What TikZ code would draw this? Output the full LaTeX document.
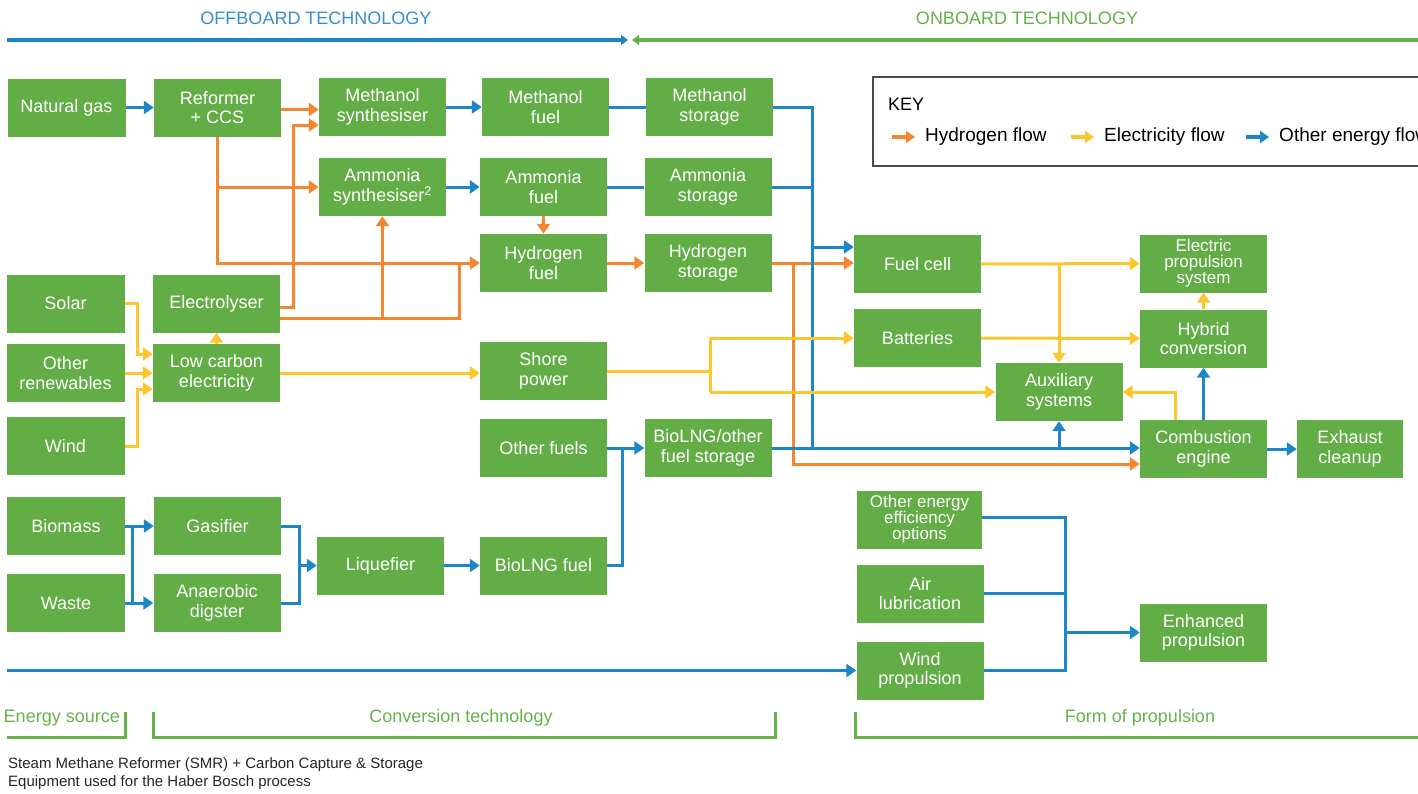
\documentclass[tikz,border=0pt]{standalone}
\usepackage{fontspec}
\setmainfont{Liberation Sans}
\usetikzlibrary{arrows.meta}
\definecolor{boxgreen}{HTML}{63AD46}
\definecolor{othblue}{HTML}{1D86C8}
\definecolor{hydorange}{HTML}{F4862F}
\definecolor{eleyellow}{HTML}{FEC62E}
\definecolor{headblue}{HTML}{3A8DD0}
\definecolor{headgreen}{HTML}{66B24A}
\begin{document}
\begin{tikzpicture}[x=1pt, y=-1pt, >={Triangle[length=10pt,width=13pt]},
    box/.style={rectangle, fill=boxgreen, text=white, align=center, inner sep=1pt,
      minimum width=127pt, minimum height=58pt, font=\fontsize{18}{19.5}\selectfont},
    srcbox/.style={box, minimum width=118pt},
    tight/.style={font=\fontsize{17}{16}\selectfont},
    hyd/.style={draw=hydorange, line width=3pt},
    ele/.style={draw=eleyellow, line width=3pt},
    oth/.style={draw=othblue, line width=3pt},
    bracket/.style={draw=headgreen, line width=3pt},
    label/.style={text=headgreen, font=\fontsize{18}{20}\selectfont},
    head/.style={font=\fontsize{18}{20}\selectfont},
    note/.style={anchor=west, inner sep=0pt, text=black!85, font=\fontsize{15}{17}\selectfont}]
\useasboundingbox (0,0) rectangle (1418,793);
\clip (0,0) rectangle (1418,793);

% headings
\node[head, text=headblue] (offboard) at (316,18) {OFFBOARD TECHNOLOGY};
\node[head, text=headgreen] (onboard) at (1027,18) {ONBOARD TECHNOLOGY};
\coordinate (offl) at (7,40);
\coordinate (offr) at (628,40);
\coordinate (onl) at (632,40);
\coordinate (onr) at (1418,40);
\draw[othblue, line width=4pt, -{Triangle[length=7pt,width=10pt]}] (offl) -- (offr);
\draw[headgreen, line width=4pt, -{Triangle[length=7pt,width=10pt]}] (onr) -- (onl);

% key
\draw[black!70, line width=1.2pt] (873,77) rectangle (1440,166);
\node[head, anchor=west, inner sep=0pt] (keytitle) at (888,104) {KEY};
\foreach \c/\x/\t in {hydorange/892/Hydrogen flow, eleyellow/1071/Electricity flow, othblue/1246/Other energy flow}{
  \coordinate (key\x) at (\x,137);
  \coordinate (keyend\x) at (\x+23,137);
  \draw[\c, line width=3.5pt, -{Triangle[length=9pt,width=12pt]}] (key\x) -- (keyend\x);
  \node[head, anchor=west, inner sep=0pt, font=\fontsize{19}{20}\selectfont] (keytext\x) at (\x+33,137) {\t};
}

% boxes
\node[srcbox] (natgas) at (66.5,107.5) {Natural gas};
\node[box] (reformer) at (217.5,107.5) {Reformer\\+ CCS};
\node[box] (methsyn) at (382.5,107) {Methanol\\synthesiser};
\node[box] (ammsyn) at (382.5,187) {Ammonia\\synthesiser\textsuperscript{2}};
\node[box] (methfuel) at (545.5,107) {Methanol\\fuel};
\node[box] (methstore) at (709.5,107) {Methanol\\storage};
\node[box] (ammfuel) at (543.5,187) {Ammonia\\fuel};
\node[box] (ammstore) at (708,187) {Ammonia\\storage};
\node[box] (hydfuel) at (543.5,263) {Hydrogen\\fuel};
\node[box] (hydstore) at (708,263) {Hydrogen\\storage};
\node[srcbox] (solar) at (65.5,303.5) {Solar};
\node[srcbox] (otherren) at (65.5,373) {Other\\renewables};
\node[srcbox] (wind) at (65.5,446) {Wind};
\node[box] (electrolyser) at (216.5,303.5) {Electrolyser};
\node[box] (lowcarbon) at (216.5,373) {Low carbon\\electricity};
\node[box] (shore) at (543.5,371) {Shore\\power};
\node[box] (otherfuels) at (543.5,448) {Other fuels};
\node[box] (biostore) at (708,448) {BioLNG/other\\fuel storage};
\node[srcbox] (biomass) at (66,526) {Biomass};
\node[srcbox] (waste) at (66,603) {Waste};
\node[box] (gasifier) at (217.5,526) {Gasifier};
\node[box] (digester) at (217,603) {Anaerobic\\digster};
\node[box] (liquefier) at (380.5,565.5) {Liquefier};
\node[box] (biofuel) at (543.5,565.5) {BioLNG fuel};
\node[box] (fuelcell) at (917.5,264) {Fuel cell};
\node[box] (batteries) at (917.5,338) {Batteries};
\node[box] (auxsys) at (1059,392) {Auxiliary\\systems};
\node[box, tight] (eprop) at (1203.5,263.5) {Electric\\propulsion\\system};
\node[box] (hybrid) at (1203.5,338.5) {Hybrid\\conversion};
\node[box] (combustion) at (1203.5,449) {Combustion\\engine};
\node[box, minimum width=106pt] (exhaust) at (1350,449) {Exhaust\\cleanup};
\node[box, tight, minimum width=125pt] (othereff) at (919.5,519.5) {Other energy\\efficiency\\options};
\node[box] (airlub) at (920,593.5) {Air\\lubrication};
\node[box] (windprop) at (920,670.5) {Wind\\propulsion};
\node[box] (enhanced) at (1203.5,632.5) {Enhanced\\propulsion};

% junction points
\coordinate (elx) at (293,0);
\coordinate (elx2) at (459,0);
\coordinate (h2x) at (793,0);
\coordinate (busx) at (812,448);
\coordinate (biox) at (622,448);
\coordinate (srcx) at (137,0);
\coordinate (shx) at (710,0);
\coordinate (bmx) at (132,0);
\coordinate (gasj) at (299,565.5);
\coordinate (enhj) at (1065,632.5);
\coordinate (windl) at (7,670.5);

% hydrogen flow
\draw[hyd,->] ([yshift=-2pt]reformer.east) -- ([yshift=-2pt]reformer.east -| methsyn.west);
\draw[hyd,->] ([yshift=-3.5pt]electrolyser.east) -| ([yshift=-18pt]methsyn.west -| elx) -- ([yshift=-18pt]methsyn.west);
\draw[hyd,->] (reformer.south) |- (hydfuel.west);
\draw[hyd,->] (reformer.south |- ammsyn.west) -- (ammsyn.west);
\draw[hyd] ([yshift=-14.5pt]electrolyser.east) -| (elx2 |- hydfuel.west);
\draw[hyd,->] ([yshift=-14.5pt]electrolyser.east -| ammsyn.south) -- (ammsyn.south);
\draw[hyd,->] (ammfuel.south) -- (hydfuel.north);
\draw[hyd,->] (hydfuel) -- (hydstore);
\draw[hyd,->] (hydstore.east) -- (hydstore.east -| fuelcell.west);
\draw[hyd,->] (hydstore.east -| h2x) |- ([yshift=-15pt]combustion.west);

% other energy flow
\draw[oth,->] (natgas) -- (reformer);
\draw[oth,->] (methsyn) -- (methfuel);
\draw[oth,->] (ammsyn) -- (ammfuel);
\draw[oth] (methfuel) -- (methstore);
\draw[oth] (ammfuel) -- (ammstore);
\draw[oth] (methstore.east) -| (busx);
\draw[oth] (ammstore.east) -- (ammstore.east -| busx);
\draw[oth,->] ([yshift=17pt]fuelcell.west -| busx) -- ([yshift=17pt]fuelcell.west);
\draw[oth,->] (biostore.east) -- (biostore.east -| combustion.west);
\draw[oth,->] (auxsys.south |- busx) -- (auxsys.south);
\draw[oth,->] (combustion) -- (exhaust);
\draw[oth,->] (combustion) -- (hybrid);
\draw[oth,->] (otherfuels) -- (biostore);
\draw[oth] (biofuel.east) -| (biox);
\draw[oth,->] (biomass) -- (gasifier);
\draw[oth,->] (waste) -- (digester);
\draw[oth] (biomass.east -| bmx) -- (waste.east -| bmx);
\draw[oth] (gasifier.east) -| (gasj);
\draw[oth] (digester.east) -| (gasj);
\draw[oth,->] (gasj) -- (liquefier.west);
\draw[oth,->] (liquefier) -- (biofuel);
\draw[oth,->] (windl) -- (windprop.west);
\draw[oth] ([yshift=2.5pt]othereff.east) -| (enhj);
\draw[oth] (windprop.east) -| (enhj);
\draw[oth] (airlub.east) -- (airlub.east -| enhj);
\draw[oth,->] (enhj) -- (enhanced.west);

% electricity flow
\draw[ele,->] (solar.east) -| ([yshift=19pt]lowcarbon.west -| srcx) -- ([yshift=19pt]lowcarbon.west);
\draw[ele,->] (otherren) -- (lowcarbon);
\draw[ele,->] (wind.east) -| ([yshift=-16pt]lowcarbon.west -| srcx) -- ([yshift=-16pt]lowcarbon.west);
\draw[ele,->] (lowcarbon) -- (electrolyser);
\draw[ele,->] (lowcarbon.east) -- (lowcarbon.east -| shore.west);
\draw[ele] (shore.east) -- (shore.east -| shx);
\draw[ele] (batteries.west -| shx) -- (auxsys.west -| shx);
\draw[ele,->] (batteries.west -| shx) -- (batteries.west);
\draw[ele,->] (auxsys.west -| shx) -- (auxsys.west);
\draw[ele,->] (fuelcell) -- (eprop);
\draw[ele,->] (fuelcell.east -| auxsys.north) -- (auxsys.north);
\draw[ele,->] (batteries) -- (hybrid);
\draw[ele,->] (hybrid) -- (eprop);
\draw[ele,->] ([xshift=-28.5pt]combustion.north) |- (auxsys.east);

% stages
\draw[bracket] (7,737) -- (125,737) -- (125,712);
\draw[bracket] (153,712) -- (153,737) -- (775,737) -- (775,712);
\draw[bracket] (855,712) -- (855,737) -- (1418,737);
\node[label, anchor=east, inner sep=0pt] (stagesrc) at (120,718) {Energy source};
\node[label] (stageconv) at (461,718) {Conversion technology};
\node[label] (stageprop) at (1140,718) {Form of propulsion};

% notes
\node[note] (note1) at (8,765) {Steam Methane Reformer (SMR) + Carbon Capture \& Storage};
\node[note] (note2) at (8,783) {Equipment used for the Haber Bosch process};
\end{tikzpicture}
\end{document}
